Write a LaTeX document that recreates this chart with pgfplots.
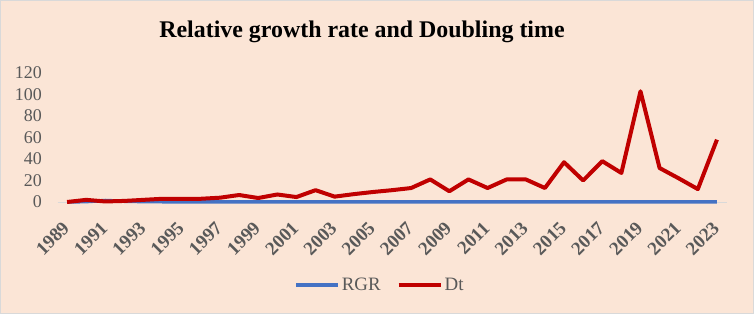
\documentclass[border=0pt]{standalone}
\usepackage{pgfplots}
\pgfplotsset{compat=1.18}
\usepackage{fontspec}
\setmainfont{Liberation Serif}
\definecolor{bgc}{HTML}{FBE5D6}
\definecolor{brd}{HTML}{D9D9D9}
\definecolor{txt}{HTML}{595959}
\definecolor{rgr}{HTML}{4472C4}
\definecolor{dt}{HTML}{C00000}
\begin{document}
\begin{tikzpicture}
\fill[bgc] (0,0) rectangle (754bp,314bp);
\draw[brd, line width=1.2bp] (0.6bp,0.6bp) rectangle (753.4bp,313.4bp);
\node[font=\bfseries\fontsize{24}{28}\selectfont, text=black] at (362bp,282bp) {Relative growth rate and Doubling time};
\begin{axis}[
  scale only axis,
  width=669bp, height=129bp,
  at={(57.5bp,112bp)}, anchor=south west,
  xmin=1988.5, xmax=2023.5,
  ymin=0, ymax=120,
  clip=false,
  axis y line*=left,
  axis x line*=bottom,
  y axis line style={draw=none},
  x axis line style={brd, line width=1bp, -},
  xtick={1989,1991,...,2023},
  xticklabels={1989,1991,1993,1995,1997,1999,2001,2003,2005,2007,2009,2011,2013,2015,2017,2019,2021,2023},
  xtick style={draw=none},
  ytick style={draw=none},
  xticklabel style={font=\bfseries\fontsize{19}{21}\selectfont, text=txt, inner sep=0pt, xshift=-1bp, yshift=-23bp, rotate=45, anchor=east},
  ytick={0,20,...,120},
  yticklabel style={font=\fontsize{18}{20}\selectfont, text=txt, inner sep=0pt, anchor=east, xshift=-15.5bp},
  /pgf/number format/assume math mode=true,
  legend columns=2,
  legend style={draw=none, fill=none, at={(axis description cs:0.482,-0.643)}, anchor=center,
    font=\fontsize{19}{21}\selectfont, text=txt,
    /tikz/every even column/.append style={column sep=14bp}},
  legend image code/.code={\draw[#1] (0bp,0bp) -- (42bp,0bp);},
]
\addplot[rgr, line width=3.5bp, line join=round] coordinates {
(1989,0) (1990,0.35) (1991,1.4) (1992,0.69) (1993,0.35) (1994,0.23) (1995,0.23) (1996,0.23) (1997,0.17) (1998,0.11) (1999,0.19) (2000,0.10) (2001,0.15) (2002,0.06) (2003,0.14) (2004,0.10) (2005,0.07) (2006,0.06) (2007,0.05) (2008,0.03) (2009,0.07) (2010,0.03) (2011,0.05) (2012,0.03) (2013,0.03) (2014,0.05) (2015,0.02) (2016,0.03) (2017,0.02) (2018,0.03) (2019,0.01) (2020,0.02) (2021,0.03) (2022,0.06) (2023,0.01)};
\addlegendentry{RGR}
\addplot[dt, line width=4bp, line join=round] coordinates {
(1989,0) (1990,2) (1991,0.5) (1992,1) (1993,2) (1994,3) (1995,3) (1996,3) (1997,4) (1998,6.5) (1999,3.7) (2000,7) (2001,4.6) (2002,11) (2003,5) (2004,7.3) (2005,9.3) (2006,11) (2007,13) (2008,21) (2009,10) (2010,21) (2011,13) (2012,21) (2013,21) (2014,13) (2015,37) (2016,20) (2017,38) (2018,27) (2019,103) (2020,31.6) (2021,22) (2022,12) (2023,58)};
\addlegendentry{Dt}
\end{axis}
\end{tikzpicture}
\end{document}
